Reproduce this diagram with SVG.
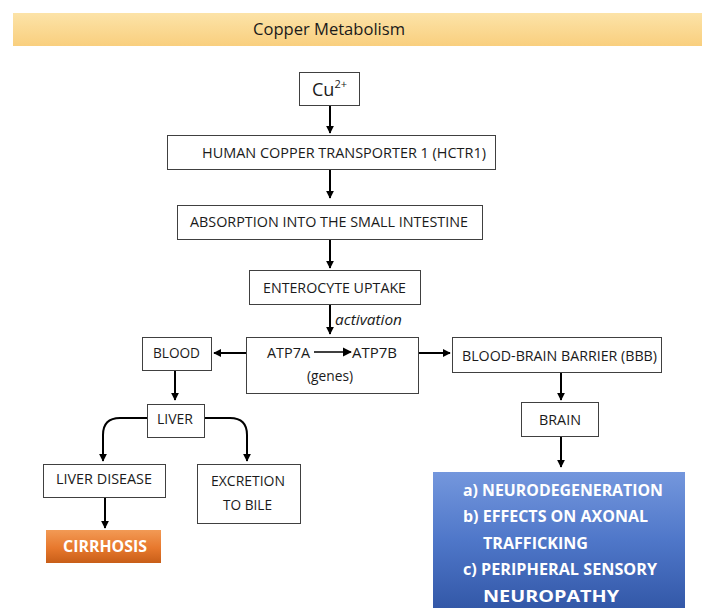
<svg xmlns="http://www.w3.org/2000/svg" width="702" height="608" viewBox="0 0 702 608">
<style>
.box{fill:#fff;stroke:#404040;stroke-width:1}
.t{font-family:"Open Sans","Liberation Sans",sans-serif;font-size:15px;fill:#1a1a1a;text-anchor:middle}
.w{font-family:"Open Sans","Liberation Sans",sans-serif;font-size:15.5px;font-weight:bold;fill:#fff}
.c{fill:none;stroke:#000;stroke-width:2}
</style>
<defs>
<marker id="ah" viewBox="0 0 10 10" refX="9" refY="5" markerWidth="4" markerHeight="4" orient="auto" markerUnits="strokeWidth">
<path d="M0,0 L10,5 L0,10 z" fill="#000"/>
</marker>
<marker id="ahs" viewBox="0 0 10 10" refX="9" refY="5" markerWidth="7" markerHeight="7" orient="auto" markerUnits="strokeWidth">
<path d="M0,0 L10,5 L0,10 z" fill="#000"/>
</marker>
<linearGradient id="hdr" x1="0" y1="0" x2="0" y2="1">
<stop offset="0" stop-color="#fce3a8"/>
<stop offset="1" stop-color="#f9cf7e"/>
</linearGradient>
<linearGradient id="blue" x1="0" y1="0" x2="0" y2="1">
<stop offset="0" stop-color="#7497dd"/>
<stop offset="0.5" stop-color="#4f77c9"/>
<stop offset="1" stop-color="#3358a8"/>
</linearGradient>
<linearGradient id="orange" x1="0" y1="0" x2="0" y2="1">
<stop offset="0" stop-color="#f29a55"/>
<stop offset="0.55" stop-color="#e7782d"/>
<stop offset="1" stop-color="#c85e18"/>
</linearGradient>
</defs>

<g id="header">
<rect x="13" y="13" width="689" height="33" fill="url(#hdr)"/>
<text x="329" y="35" class="t" style="font-size:16px" textLength="152" lengthAdjust="spacingAndGlyphs">Copper Metabolism</text>
</g>

<g id="connectors">
<line class="c" x1="330" y1="105" x2="330" y2="133" marker-end="url(#ah)"/>
<line class="c" x1="330" y1="169" x2="330" y2="198" marker-end="url(#ah)"/>
<line class="c" x1="330" y1="239" x2="330" y2="268" marker-end="url(#ah)"/>
<line class="c" x1="330" y1="305" x2="330" y2="334" marker-end="url(#ah)"/>
<text x="335" y="325" class="t" style="font-style:italic;text-anchor:start" textLength="67" lengthAdjust="spacingAndGlyphs">activation</text>
<line class="c" x1="246" y1="353" x2="214" y2="353" marker-end="url(#ah)"/>
<line class="c" x1="418" y1="353" x2="450" y2="353" marker-end="url(#ah)"/>
<line class="c" x1="175" y1="370" x2="175" y2="400" marker-end="url(#ah)"/>
<line class="c" x1="561" y1="372" x2="561" y2="400" marker-end="url(#ah)"/>
<line class="c" x1="561" y1="436" x2="561" y2="467" marker-end="url(#ah)"/>
<path class="c" d="M147,418 H120 Q103,418 103,435 V461" marker-end="url(#ah)"/>
<path class="c" d="M204,418 H230 Q247,418 247,435 V461" marker-end="url(#ah)"/>
<line class="c" x1="105" y1="497" x2="105" y2="528" marker-end="url(#ah)"/>
</g>

<g id="cu">
<rect class="box" x="299.5" y="72.5" width="60" height="33"/>
<text x="312" y="96" class="t" style="font-size:18px;text-anchor:start">Cu<tspan style="font-size:11px" dy="-8">2+</tspan></text>
</g>

<g id="hctr1">
<rect class="box" x="167.5" y="135.5" width="328" height="34"/>
<text x="344" y="158" class="t" textLength="284" lengthAdjust="spacingAndGlyphs">HUMAN COPPER TRANSPORTER 1 (HCTR1)</text>
</g>

<g id="absorption">
<rect class="box" x="177.5" y="205.5" width="305" height="34"/>
<text x="329" y="227" class="t" textLength="278" lengthAdjust="spacingAndGlyphs">ABSORPTION INTO THE SMALL INTESTINE</text>
</g>

<g id="enterocyte">
<rect class="box" x="249.5" y="270.5" width="171" height="34"/>
<text x="334.5" y="293" class="t" textLength="143" lengthAdjust="spacingAndGlyphs">ENTEROCYTE UPTAKE</text>
</g>

<g id="atp">
<rect class="box" x="246.5" y="337.5" width="172" height="56"/>
<text x="288.5" y="358" class="t" textLength="43" lengthAdjust="spacingAndGlyphs">ATP7A</text>
<line x1="314" y1="352" x2="351" y2="352" stroke="#000" stroke-width="1.3" marker-end="url(#ahs)"/>
<text x="374.5" y="358" class="t" textLength="45" lengthAdjust="spacingAndGlyphs">ATP7B</text>
<text x="330" y="381" class="t" textLength="46" lengthAdjust="spacingAndGlyphs">(genes)</text>
</g>

<g id="blood">
<rect class="box" x="142.5" y="337.5" width="69" height="33"/>
<text x="176.5" y="358" class="t" textLength="47" lengthAdjust="spacingAndGlyphs">BLOOD</text>
</g>

<g id="bbb">
<rect class="box" x="452.5" y="337.5" width="209" height="35"/>
<text x="559.5" y="361" class="t" textLength="195" lengthAdjust="spacingAndGlyphs">BLOOD-BRAIN BARRIER (BBB)</text>
</g>

<g id="brain">
<rect class="box" x="521.5" y="402.5" width="77" height="34"/>
<text x="560" y="425" class="t" textLength="42" lengthAdjust="spacingAndGlyphs">BRAIN</text>
</g>

<g id="liver">
<rect class="box" x="147.5" y="404.5" width="57" height="33"/>
<text x="175" y="424" class="t" textLength="36" lengthAdjust="spacingAndGlyphs">LIVER</text>
</g>

<g id="liver-disease">
<rect class="box" x="43.5" y="464.5" width="122" height="33"/>
<text x="104" y="484" class="t" textLength="96" lengthAdjust="spacingAndGlyphs">LIVER DISEASE</text>
</g>

<g id="excretion">
<rect class="box" x="197.5" y="464.5" width="103" height="59"/>
<text x="248" y="486" class="t" textLength="74" lengthAdjust="spacingAndGlyphs">EXCRETION</text>
<text x="247.5" y="510" class="t" textLength="49" lengthAdjust="spacingAndGlyphs">TO BILE</text>
</g>

<g id="cirrhosis">
<rect x="46" y="530" width="115" height="33" fill="url(#orange)"/>
<text x="105" y="552" class="w" style="text-anchor:middle" textLength="84" lengthAdjust="spacingAndGlyphs">CIRRHOSIS</text>
</g>

<g id="effects">
<rect x="433" y="472" width="252" height="136" fill="url(#blue)"/>
<text x="463" y="496" class="w" textLength="200" lengthAdjust="spacingAndGlyphs">a) NEURODEGENERATION</text>
<text x="463" y="522" class="w" textLength="185" lengthAdjust="spacingAndGlyphs">b) EFFECTS ON AXONAL</text>
<text x="483" y="549" class="w" textLength="105" lengthAdjust="spacingAndGlyphs">TRAFFICKING</text>
<text x="463" y="575" class="w" textLength="194" lengthAdjust="spacingAndGlyphs">c) PERIPHERAL SENSORY</text>
<text x="483" y="602" class="w" textLength="136" lengthAdjust="spacingAndGlyphs">NEUROPATHY</text>
</g>
</svg>
